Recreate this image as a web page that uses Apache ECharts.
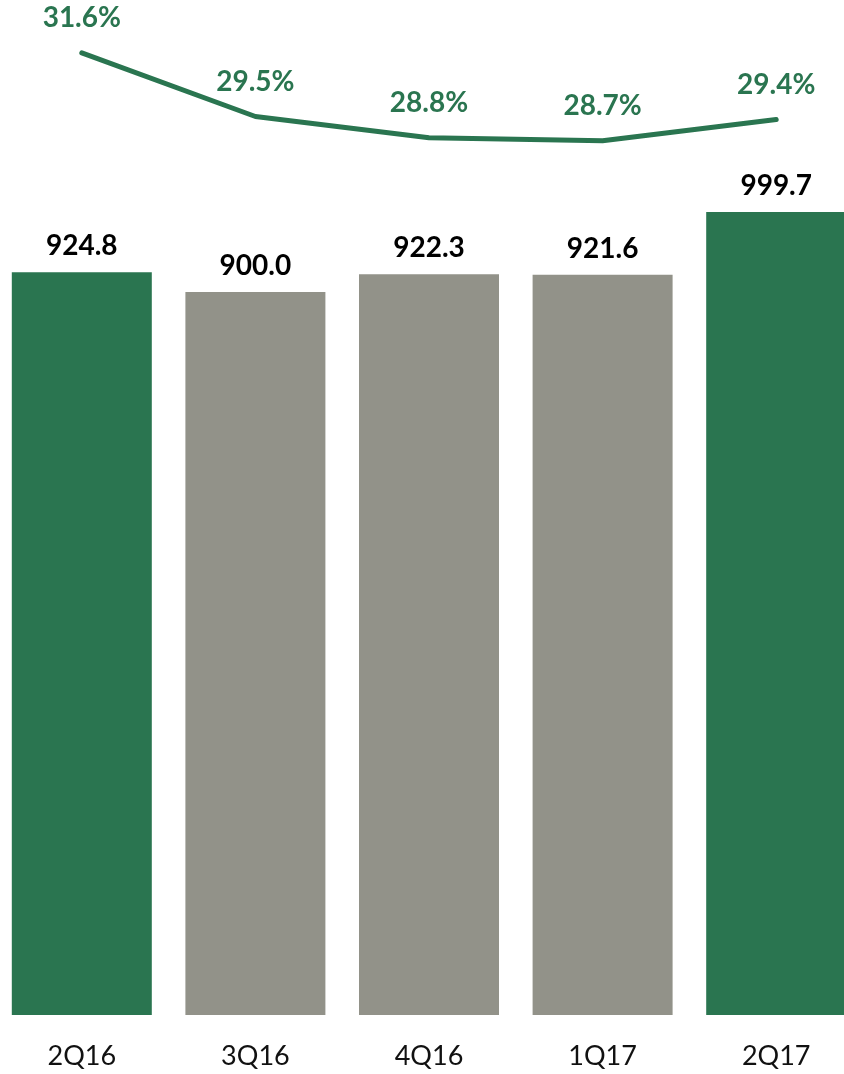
<!DOCTYPE html>
<html>
<head>
<meta charset="utf-8">
<style>
  html, body { margin: 0; padding: 0; background: #ffffff; overflow: hidden; }
  /* plot area runs slightly past both page edges */
  #chart { position: absolute; left: -5px; top: 0; width: 868px; height: 1074px; }
</style>
<script src="https://cdn.jsdelivr.net/npm/echarts@6/dist/echarts.min.js"></script>
</head>
<body>
<div id="chart"></div>
<script>
// Quarterly values (bars) and margin percentage (line)
const quarters = ['2Q16', '3Q16', '4Q16', '1Q17', '2Q17'];
const revenue = [924.8, 900.0, 922.3, 921.6, 999.7];
const margin = [31.6, 29.5, 28.8, 28.7, 29.4];

const GREEN = '#2a7550';
const GRAY = '#929289';
const FONT = 'Lato, "Open Sans", sans-serif';

const chart = echarts.init(document.getElementById('chart'));
chart.setOption({
  animation: false,
  backgroundColor: '#ffffff',
  grid: { left: 0, right: 0, top: 15, bottom: 59, outerBoundsMode: 'none' },
  xAxis: {
    type: 'category',
    data: quarters,
    axisLine: { show: false },
    axisTick: { show: false },
    axisLabel: { color: '#111', fontFamily: FONT, fontSize: 27, margin: 28 }
  },
  yAxis: [
    { type: 'value', min: 0, max: 1245, show: false, splitLine: { show: false } },
    { type: 'value', min: -0.15, max: 32.85, show: false, splitLine: { show: false } }
  ],
  series: [
    {
      type: 'bar',
      data: revenue,
      barWidth: 140,
      itemStyle: {
        color: p => (p.dataIndex === 0 || p.dataIndex === revenue.length - 1) ? GREEN : GRAY
      },
      label: {
        show: true,
        position: 'top',
        distance: 12,
        color: '#000',
        fontFamily: FONT,
        fontWeight: 'bold',
        fontSize: 28,
        formatter: p => p.value.toFixed(1)
      }
    },
    {
      type: 'line',
      yAxisIndex: 1,
      data: margin,
      symbol: 'circle',
      symbolSize: 1,
      itemStyle: { color: GREEN },
      lineStyle: { color: GREEN, width: 5, cap: 'round', join: 'round' },
      label: {
        show: true,
        position: 'top',
        distance: 20,
        color: GREEN,
        fontFamily: FONT,
        fontWeight: 'bold',
        fontSize: 28,
        formatter: p => p.value.toFixed(1) + '%'
      }
    }
  ]
});
</script>
</body>
</html>
